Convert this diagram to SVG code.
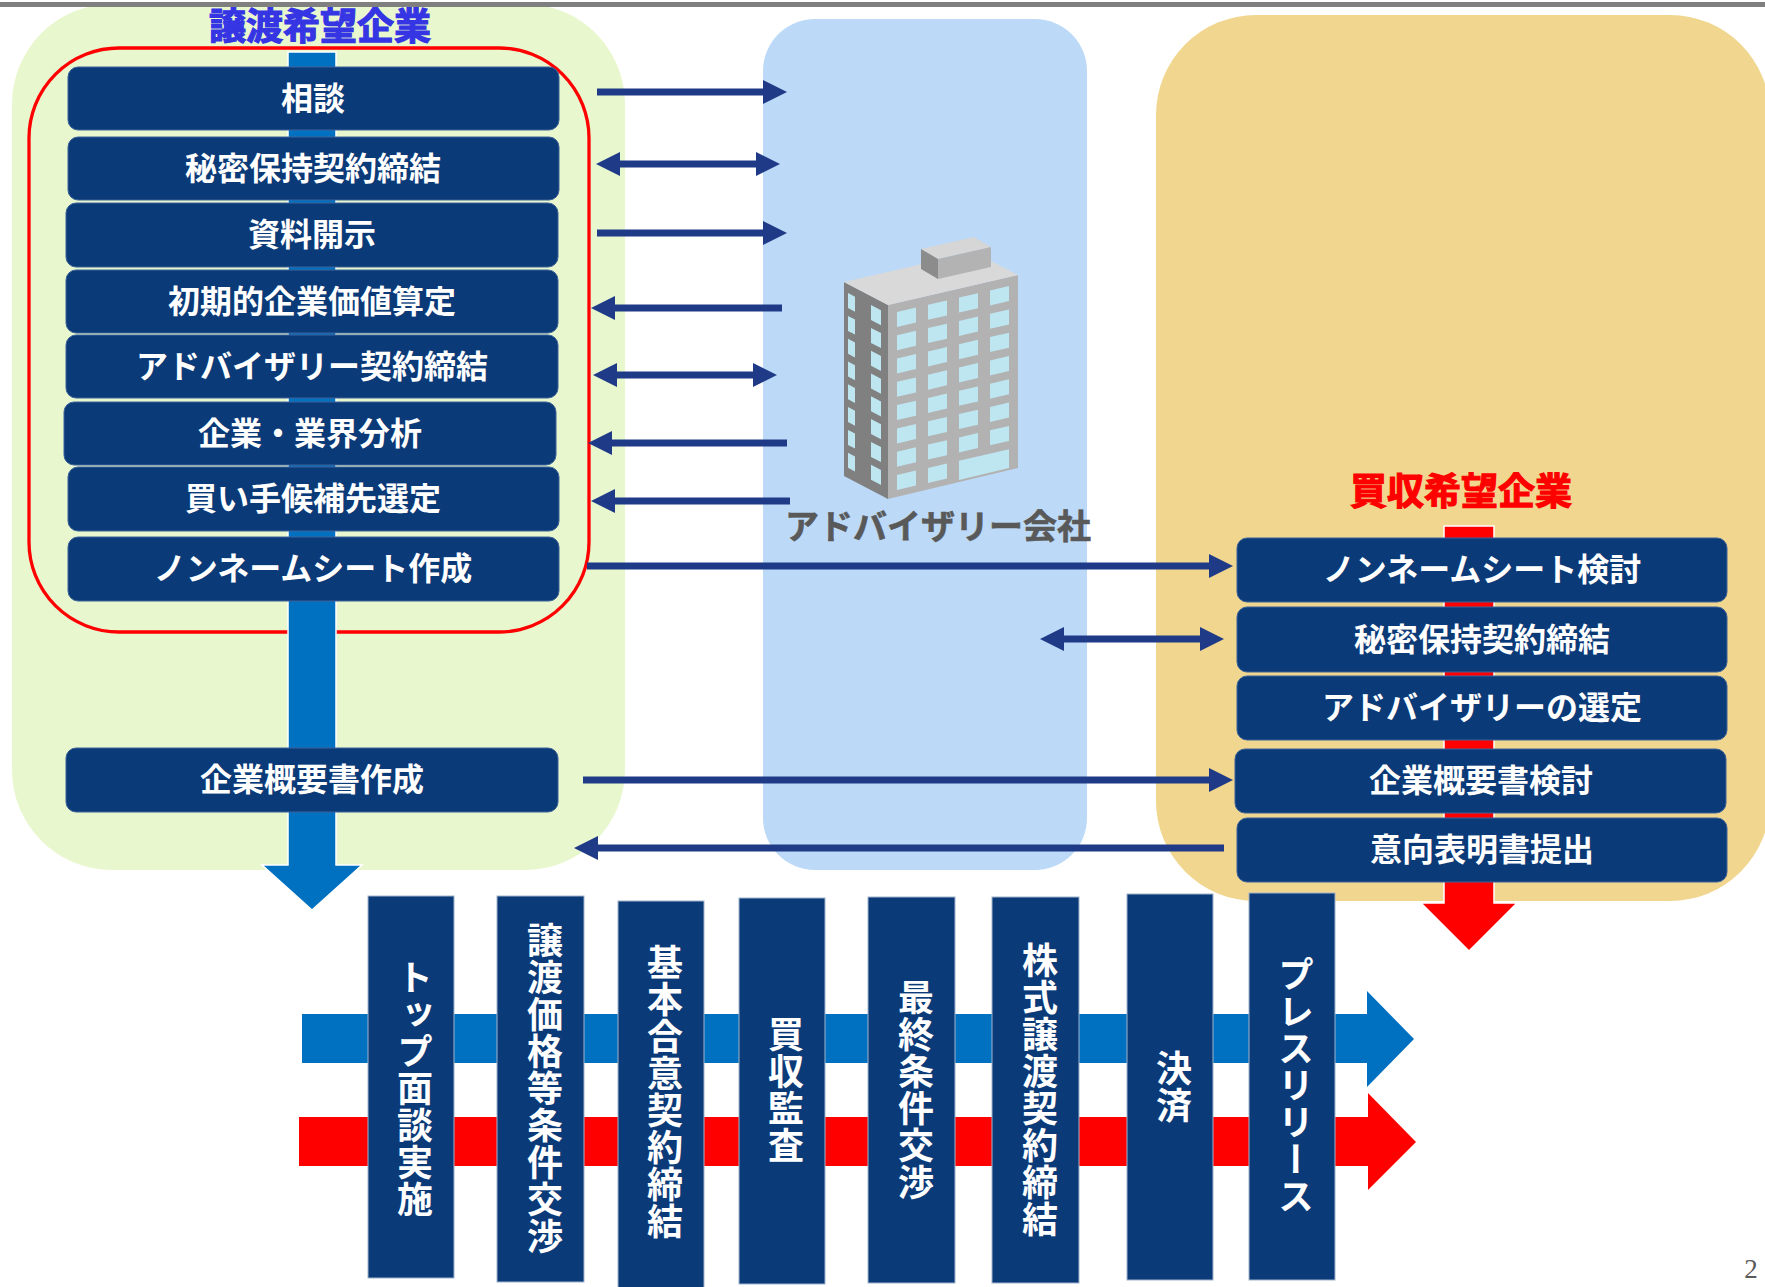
<svg xmlns="http://www.w3.org/2000/svg" xmlns:xlink="http://www.w3.org/1999/xlink" width="1765" height="1287" viewBox="0 0 1765 1287">
  <defs>
    <style>
      .jp { font-family: "Noto Sans CJK JP", "Noto Sans", sans-serif; font-weight: 700; }
      .box { fill: #0B3A78; stroke: #3C6399; stroke-width: 1; }
      .vbox { fill: #0B3A78; stroke: #9FB3CC; stroke-width: 1; }
      .lbl { fill: #FFFFFF; font-size: 32px; text-anchor: middle; dominant-baseline: central; }
      .vlbl { fill: #FFFFFF; font-size: 36px; letter-spacing: 1px; text-anchor: middle; writing-mode: vertical-rl; }
      .title { text-anchor: middle; dominant-baseline: central; stroke-width: 1.2; }
      .conn { stroke: #1F3B87; stroke-width: 7; fill: none; }
      .win { fill: #BDE6F0; }
    </style>
    <marker id="head" viewBox="0 0 24 24" refX="1" refY="12" markerWidth="24" markerHeight="24" markerUnits="userSpaceOnUse" orient="auto-start-reverse">
      <path d="M0,0 L24,12 L0,24 Z" fill="#1F3B87"/>
    </marker>
    <polygon id="winF" points="0,0 19,-4.4 19,10.6 0,15"/>
    <polygon id="winA" points="0,0 7,3.7 7,18.7 0,15"/>
    <polygon id="winB" points="0,0 10,5.2 10,20.2 0,15"/>
  </defs>

  <!-- swimlane backgrounds -->
  <g id="lane-seller">
    <rect x="12" y="4" width="613" height="866" rx="100" ry="100" fill="#E9F7CF"/>
  </g>
  <g id="lane-advisor">
    <rect x="763" y="19" width="324" height="851" rx="52" ry="52" fill="#BCDAF8"/>
  </g>
  <g id="lane-buyer">
    <rect x="1156" y="15" width="614" height="886" rx="100" ry="100" fill="#F0D68E"/>
  </g>

  <!-- page rule, above the lanes -->
  <rect x="0" y="2" width="1765" height="5" fill="#7F7F7F"/>

  <!-- lane titles -->
  <text class="jp title" x="320" y="24" font-size="37" fill="#3535E4" stroke="#3535E4">譲渡希望企業</text>
  <text class="jp title" x="1461" y="489" font-size="37" fill="#FF0000" stroke="#FF0000">買収希望企業</text>

  <!-- seller scope frame -->
  <rect x="29" y="48" width="560" height="584" rx="90" ry="90" fill="none" stroke="#FF0000" stroke-width="3.3"/>

  <!-- process flow arrows -->
  <g id="flow-seller">
    <path d="M288,52 H336 V865 H362 L312,910 L262,865 H288 Z" fill="#0070C0" stroke="#FFFFFF" stroke-width="1.5"/>
  </g>
  <g id="flow-buyer">
    <path d="M1444,526 H1494 V903 H1517 L1469,951 L1421,903 H1444 Z" fill="#FF0000" stroke="#FFFFFF" stroke-width="1.5"/>
  </g>

  <!-- seller steps -->
  <g id="s-soudan"><rect class="box" x="68" y="67" width="491" height="63" rx="10"/><text class="jp lbl" x="313" y="95.5">相談</text></g>
  <g id="s-nda"><rect class="box" x="68" y="137" width="491" height="63" rx="10"/><text class="jp lbl" x="313" y="165.5">秘密保持契約締結</text></g>
  <g id="s-disclose"><rect class="box" x="66" y="203" width="492" height="64" rx="10"/><text class="jp lbl" x="312" y="232">資料開示</text></g>
  <g id="s-valuation"><rect class="box" x="66" y="270" width="492" height="63" rx="10"/><text class="jp lbl" x="312" y="298.5">初期的企業価値算定</text></g>
  <g id="s-advisory"><rect class="box" x="66" y="335" width="492" height="63" rx="10"/><text class="jp lbl" x="312" y="363.5">アドバイザリー契約締結</text></g>
  <g id="s-analysis"><rect class="box" x="64" y="402" width="492" height="63" rx="10"/><text class="jp lbl" x="310" y="430.5">企業・業界分析</text></g>
  <g id="s-candidates"><rect class="box" x="68" y="467" width="491" height="64" rx="10"/><text class="jp lbl" x="313" y="496">買い手候補先選定</text></g>
  <g id="s-teaser"><rect class="box" x="68" y="537" width="491" height="64" rx="10"/><text class="jp lbl" x="313" y="566">ノンネームシート作成</text></g>
  <g id="s-im"><rect class="box" x="66" y="748" width="492" height="64" rx="10"/><text class="jp lbl" x="312" y="777">企業概要書作成</text></g>

  <!-- buyer steps -->
  <g id="b-teaser"><rect class="box" x="1237" y="538" width="490" height="64" rx="10"/><text class="jp lbl" x="1482" y="567">ノンネームシート検討</text></g>
  <g id="b-nda"><rect class="box" x="1237" y="607" width="490" height="65" rx="10"/><text class="jp lbl" x="1482" y="636.5">秘密保持契約締結</text></g>
  <g id="b-advisor"><rect class="box" x="1237" y="676" width="490" height="64" rx="10"/><text class="jp lbl" x="1482" y="705">アドバイザリーの選定</text></g>
  <g id="b-im"><rect class="box" x="1235" y="749" width="491" height="64" rx="10"/><text class="jp lbl" x="1481" y="778">企業概要書検討</text></g>
  <g id="b-loi"><rect class="box" x="1237" y="818" width="490" height="64" rx="10"/><text class="jp lbl" x="1482" y="847">意向表明書提出</text></g>

  <!-- advisory firm: office building -->
  <g id="advisor-firm">
    <polygon points="844,282 888,305 888,499 844,476" fill="#808080"/>
    <polygon points="888,305 1018,275 1018,468 888,499" fill="#B2B2B2"/>
    <polygon points="844,282 888,305 1018,275 974,252" fill="#D9D9D9"/>
    <polygon points="921,249 974,237 991,247 938,259" fill="#D6D6D6"/>
    <polygon points="921,249 938,259 938,279 921,269" fill="#8C8C8C"/>
    <polygon points="938,259 991,247 991,267 938,279" fill="#B3B3B3"/>
    <g class="win">
      <use href="#winF" x="897" y="311.9"/><use href="#winF" x="897" y="335.2"/><use href="#winF" x="897" y="358.5"/><use href="#winF" x="897" y="381.8"/>
      <use href="#winF" x="897" y="405.1"/><use href="#winF" x="897" y="428.4"/><use href="#winF" x="897" y="451.7"/><use href="#winF" x="897" y="475.0"/>
      <use href="#winF" x="928" y="304.8"/><use href="#winF" x="928" y="328.1"/><use href="#winF" x="928" y="351.4"/><use href="#winF" x="928" y="374.7"/>
      <use href="#winF" x="928" y="398.0"/><use href="#winF" x="928" y="421.3"/><use href="#winF" x="928" y="444.6"/><use href="#winF" x="928" y="467.9"/>
      <use href="#winF" x="959" y="297.6"/><use href="#winF" x="959" y="320.9"/><use href="#winF" x="959" y="344.2"/><use href="#winF" x="959" y="367.5"/>
      <use href="#winF" x="959" y="390.8"/><use href="#winF" x="959" y="414.1"/><use href="#winF" x="959" y="437.4"/>
      <use href="#winF" x="990" y="290.5"/><use href="#winF" x="990" y="313.8"/><use href="#winF" x="990" y="337.1"/><use href="#winF" x="990" y="360.4"/>
      <use href="#winF" x="990" y="383.7"/><use href="#winF" x="990" y="407.0"/><use href="#winF" x="990" y="430.3"/>
      <polygon points="959,460.7 1009,449.2 1009,468 959,480"/>
      <use href="#winA" x="848" y="293.1"/><use href="#winA" x="848" y="315.9"/><use href="#winA" x="848" y="338.7"/><use href="#winA" x="848" y="361.5"/>
      <use href="#winA" x="848" y="384.3"/><use href="#winA" x="848" y="407.1"/><use href="#winA" x="848" y="429.9"/><use href="#winA" x="848" y="452.7"/>
      <use href="#winB" x="871" y="305.1"/><use href="#winB" x="871" y="327.9"/><use href="#winB" x="871" y="350.7"/><use href="#winB" x="871" y="373.5"/>
      <use href="#winB" x="871" y="396.3"/><use href="#winB" x="871" y="419.1"/><use href="#winB" x="871" y="441.9"/><use href="#winB" x="871" y="464.7"/>
    </g>
    <text class="jp" x="938" y="524" font-size="34" fill="#595959" stroke="#595959" stroke-width="0.6" text-anchor="middle" dominant-baseline="central">アドバイザリー会社</text>
  </g>

  <!-- exchanges between parties -->
  <g id="connectors">
    <path class="conn" d="M597,92 H764" marker-end="url(#head)"/>
    <path class="conn" d="M619,164 H757" marker-start="url(#head)" marker-end="url(#head)"/>
    <path class="conn" d="M597,233 H764" marker-end="url(#head)"/>
    <path class="conn" d="M782,308 H614" marker-end="url(#head)"/>
    <path class="conn" d="M616,375 H754" marker-start="url(#head)" marker-end="url(#head)"/>
    <path class="conn" d="M787,443 H611" marker-end="url(#head)"/>
    <path class="conn" d="M790,501 H614" marker-end="url(#head)"/>
    <path class="conn" d="M587,566 H1210" marker-end="url(#head)"/>
    <path class="conn" d="M1063,639 H1201" marker-start="url(#head)" marker-end="url(#head)"/>
    <path class="conn" d="M583,780 H1210" marker-end="url(#head)"/>
    <path class="conn" d="M1224,848 H597" marker-end="url(#head)"/>
  </g>

  <!-- later-stage timeline -->
  <g id="timeline-seller">
    <path d="M302,1014 H1367 V991 L1414,1039 L1367,1087 V1063 H302 Z" fill="#0070C0"/>
  </g>
  <g id="timeline-buyer">
    <path d="M299,1117 H1368 V1093 L1416,1142 L1368,1190 V1166 H299 Z" fill="#FF0000"/>
  </g>

  <g id="t-meeting"><rect class="vbox" x="368" y="896" width="86" height="382"/><text class="jp vlbl" x="415" y="1089">トップ面談実施</text></g>
  <g id="t-price"><rect class="vbox" x="497" y="896" width="87" height="386"/><text class="jp vlbl" x="545" y="1089">譲渡価格等条件交渉</text></g>
  <g id="t-mou"><rect class="vbox" x="618" y="901" width="86" height="390"/><text class="jp vlbl" x="665" y="1092">基本合意契約締結</text></g>
  <g id="t-dd"><rect class="vbox" x="739" y="898" width="86" height="386"/><text class="jp vlbl" x="786" y="1090">買収監査</text></g>
  <g id="t-final"><rect class="vbox" x="868" y="897" width="87" height="386"/><text class="jp vlbl" x="916" y="1090">最終条件交渉</text></g>
  <g id="t-spa"><rect class="vbox" x="992" y="897" width="87" height="386"/><text class="jp vlbl" x="1040" y="1090">株式譲渡契約締結</text></g>
  <g id="t-closing"><rect class="vbox" x="1127" y="894" width="86" height="386"/><text class="jp vlbl" x="1174" y="1087">決済</text></g>
  <g id="t-press"><rect class="vbox" x="1249" y="893" width="86" height="387"/><text class="jp vlbl" x="1296" y="1086">プレスリリース</text></g>

  <!-- page number -->
  <text x="1751" y="1278" font-family="'Liberation Serif', serif" font-size="27" fill="#595959" text-anchor="middle">2</text>
</svg>
